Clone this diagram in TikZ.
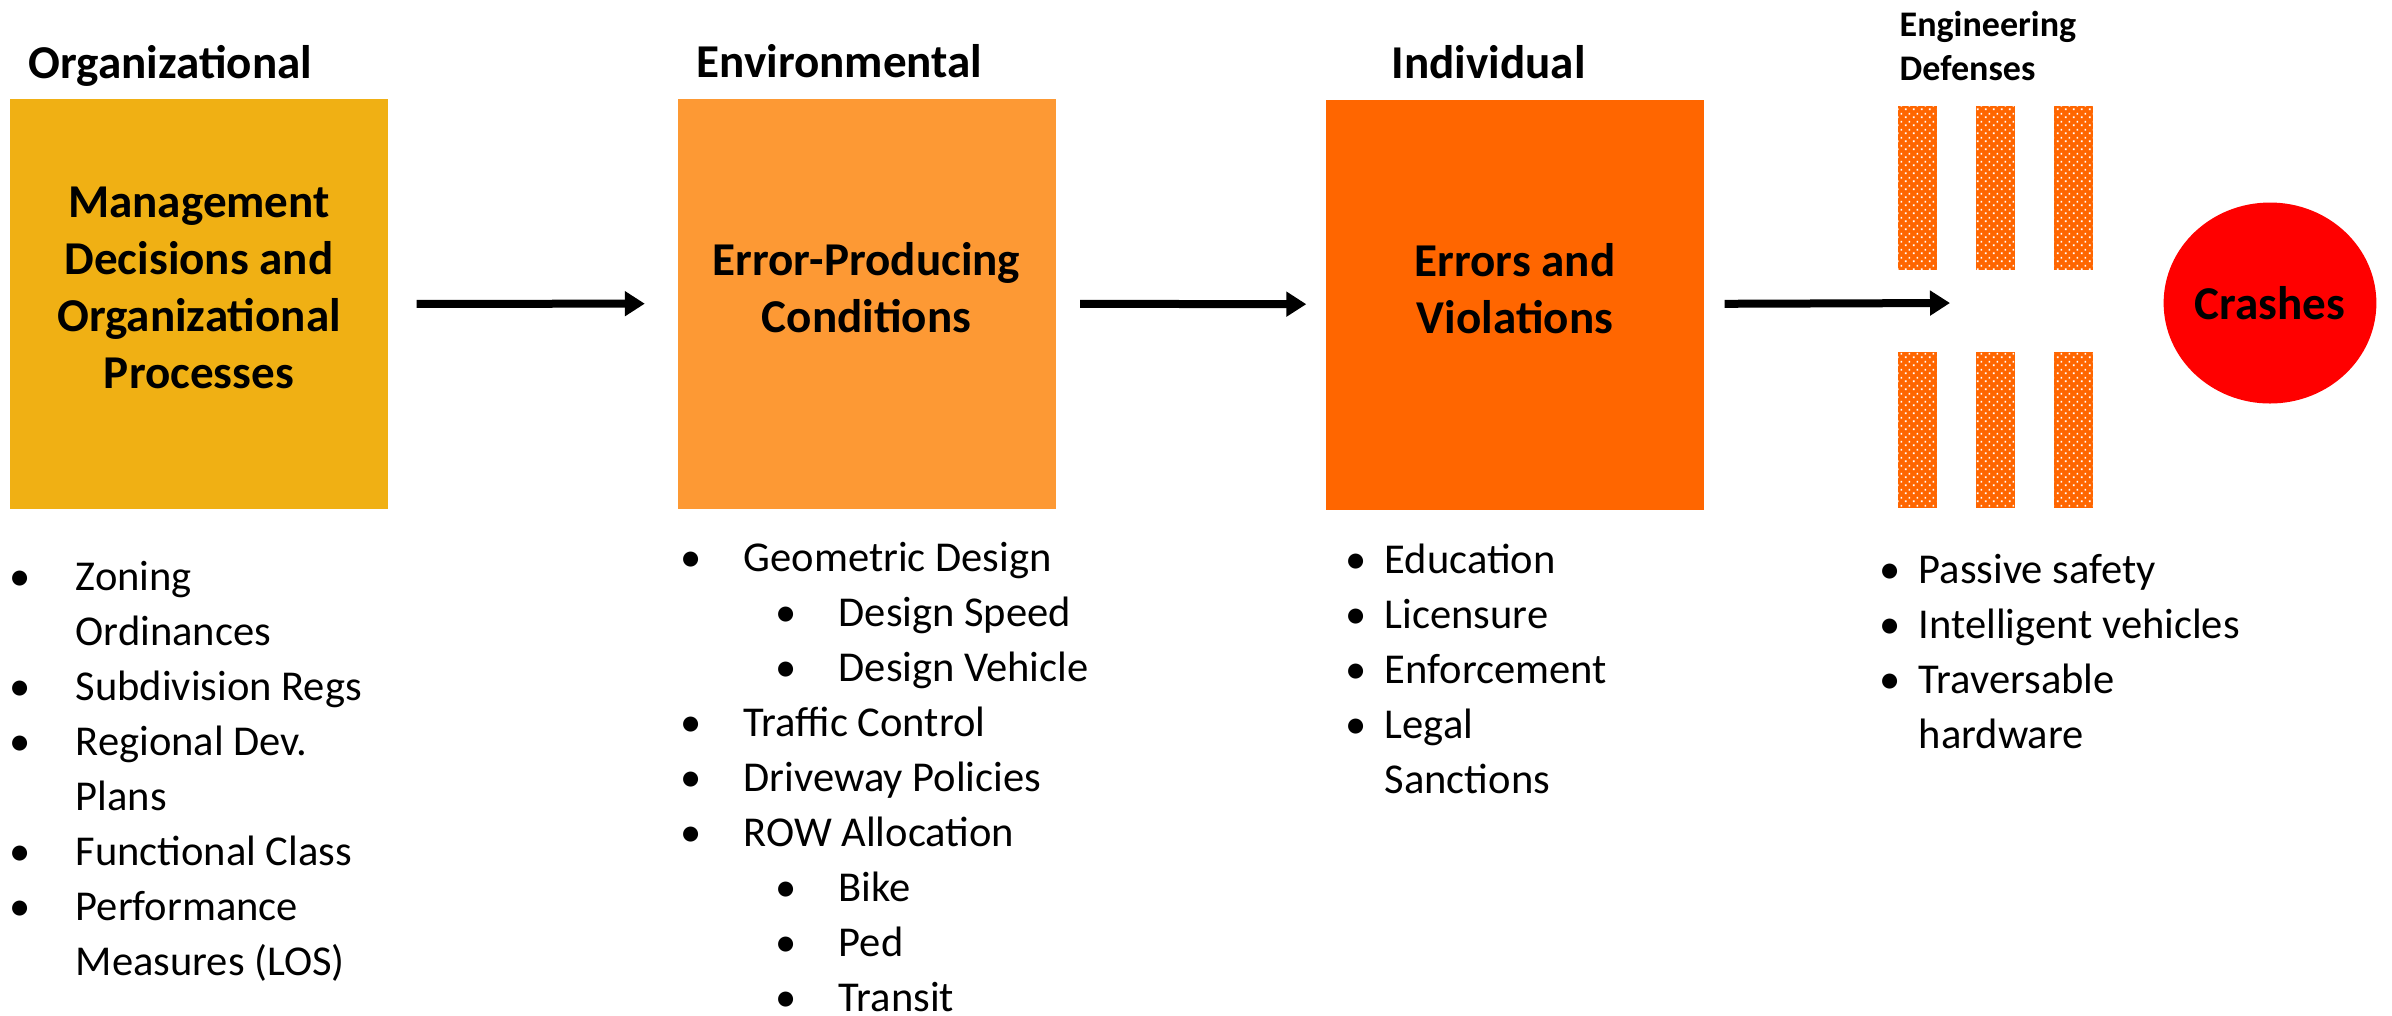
\documentclass[tikz,border=0pt]{standalone}
\usepackage{fontspec}
\setmainfont{Carlito}
\usepackage{tikz}
\usetikzlibrary{arrows.meta,shapes.geometric,patterns.meta}

\definecolor{orgcol}{RGB}{240,176,20}
\definecolor{envcol}{RGB}{253,153,52}
\definecolor{indcol}{RGB}{255,102,0}
\definecolor{crashcol}{RGB}{255,0,0}

% white dots for the defense bars
\tikzdeclarepattern{
  name=guarddots,
  type=uncolored,
  bottom left={(0,0)},
  top right={(0.08cm,0.08cm)},
  tile size={(0.08cm,0.08cm)},
  code={
    \fill (0.01cm,0.01cm) rectangle (0.028cm,0.028cm);
    \fill (0.05cm,0.05cm) rectangle (0.068cm,0.068cm);
  }
}

\newcommand{\bul}[2]{\makebox[#1][l]{\textbullet}#2}

\begin{document}
\begin{tikzpicture}[>={Triangle[length=0.2cm,width=0.24cm]},
    stage/.style={rectangle, minimum width=3.78cm, minimum height=4.1cm, inner sep=0, align=center, text depth=0.32cm, font=\bfseries\fontsize{13.4}{16.2}\selectfont},
    head/.style={anchor=base west, inner sep=0, font=\bfseries\fontsize{13.4}{16}\selectfont},
    items/.style={anchor=north west, inner sep=0, align=left, font=\fontsize{12.1}{15.65}\selectfont},
    guard/.style={rectangle, inner sep=0, minimum width=0.39cm, fill=indcol, postaction={pattern=guarddots, pattern color=white}},
    flow/.style={->, line width=0.08cm}]
    \useasboundingbox (0,0) rectangle (23.92,-10.15);

    % the three stages
    \node[stage, fill=orgcol] (org) at (1.99,-3.04) {Management\\Decisions and\\Organizational\\Processes};
    \node[stage, fill=envcol] (env) at (8.665,-3.035) {Error-Producing\\Conditions};
    \node[stage, fill=indcol] (ind) at (15.15,-3.045) {Errors and\\Violations};

    \node[head] (orghead) at (0.28,-0.78) {Organizational};
    \node[head] (envhead) at (6.96,-0.77) {Environmental};
    \node[head] (indhead) at (13.91,-0.78) {Individual};

    % defenses
    \node[anchor=north west, inner sep=0, align=left, font=\bfseries\fontsize{10.25}{12.5}\selectfont] (defhead) at (18.99,-0.05) {\strut Engineering\\Defenses};
    \foreach \x [count=\i] in {19.17,19.95,20.73} {
        \node[guard, minimum height=1.64cm] (top\i) at (\x,-1.88) {};
        \node[guard, minimum height=1.56cm] (bot\i) at (\x,-4.30) {};
    }
    \coordinate (gap) at (19.50,-3.03);

    \node[ellipse, fill=crashcol, minimum width=2.11cm, minimum height=2.01cm, inner sep=0, font=\bfseries\fontsize{13.4}{16}\selectfont] (crash) at (22.70,-3.03) {Crashes};

    \path[flow]
        (org) edge[shorten <=0.28cm, shorten >=0.32cm] (env)
        (env) edge[shorten <=0.24cm, shorten >=0.19cm] (ind)
        (ind) edge[shorten <=0.20cm] (gap);

    % lists under each stage
    \node[items] (orglist) at (0.085,-5.515) {\strut\bul{0.665cm}{Zoning}\\\hspace*{0.665cm}Ordinances\\\bul{0.665cm}{Subdivision Regs}\\\bul{0.665cm}{Regional Dev.}\\\hspace*{0.665cm}Plans\\\bul{0.665cm}{Functional Class}\\\bul{0.665cm}{Performance}\\\hspace*{0.665cm}Measures (LOS)};
    \node[items] (envlist) at (6.795,-5.32) {\strut\bul{0.635cm}{Geometric Design}\\\hspace*{0.95cm}\bul{0.635cm}{Design Speed}\\\hspace*{0.95cm}\bul{0.635cm}{Design Vehicle}\\\bul{0.635cm}{Traffic Control}\\\bul{0.635cm}{Driveway Policies}\\\bul{0.635cm}{ROW Allocation}\\\hspace*{0.95cm}\bul{0.635cm}{Bike}\\\hspace*{0.95cm}\bul{0.635cm}{Ped}\\\hspace*{0.95cm}\bul{0.635cm}{Transit}};
    \node[items] (indlist) at (13.445,-5.345) {\strut\bul{0.395cm}{Education}\\\bul{0.395cm}{Licensure}\\\bul{0.395cm}{Enforcement}\\\bul{0.395cm}{Legal}\\\hspace*{0.395cm}Sanctions};
    \node[items] (deflist) at (18.785,-5.445) {\strut\bul{0.395cm}{Passive safety}\\\bul{0.395cm}{Intelligent vehicles}\\\bul{0.395cm}{Traversable}\\\hspace*{0.395cm}hardware};
\end{tikzpicture}
\end{document}
